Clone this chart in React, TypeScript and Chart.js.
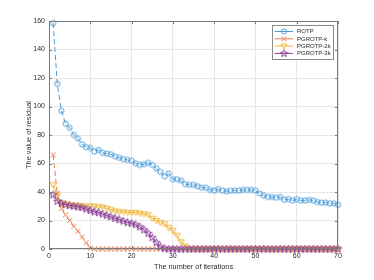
import React, { useEffect, useRef } from 'react';
import { Chart, registerables } from 'chart.js';

Chart.register(...registerables);

const iterations = [
  1, 2, 3, 4, 5, 6, 7, 8, 9, 10, 11, 12, 13, 14, 15, 16, 17, 18, 19, 20,
  21, 22, 23, 24, 25, 26, 27, 28, 29, 30, 31, 32, 33, 34, 35, 36, 37, 38, 39, 40,
  41, 42, 43, 44, 45, 46, 47, 48, 49, 50, 51, 52, 53, 54, 55, 56, 57, 58, 59, 60,
  61, 62, 63, 64, 65, 66, 67, 68, 69, 70,
];

const rotp = [
  158.5, 116, 97, 88, 85, 80, 77.5, 73.5, 71.5, 71,
  68.5, 69.5, 67.5, 67, 66.5, 65, 64, 63, 62.5, 62,
  60, 59, 59.5, 60.5, 59, 56.5, 54, 51, 53, 49,
  49, 48, 45.5, 45, 45, 44, 43, 43, 41.5, 41,
  42, 41, 40.5, 41, 41, 41, 41.5, 41.5, 41.5, 41,
  39, 37.5, 36.5, 36.5, 36, 36.5, 34.5, 35, 34, 35,
  34, 34, 34.5, 34, 33, 32.5, 32.5, 32, 32, 31,
];

const pgrotpK = [
  66, 39, 28.5, 24, 20, 16, 12.5, 8.5, 4.5, 0.5,
  0, 0, 0, 0, 0, 0, 0, 0, 0, 0,
  0, 0, 0, 0, 0, 0, 0, 0, 0, 0,
  0, 0, 0, 0, 0, 0, 0, 0, 0, 0,
  0, 0, 0, 0, 0, 0, 0, 0, 0, 0,
  0, 0, 0, 0, 0, 0, 0, 0, 0, 0,
  0, 0, 0, 0, 0, 0, 0, 0, 0, 0,
];

const pgrotp2k = [
  45, 38, 32.5, 31.5, 31, 30.5, 30.5, 30, 30, 30,
  30, 29.5, 29.5, 28.5, 27.5, 26.5, 26, 26, 25.5, 25.5,
  25.5, 25, 24.5, 24, 21.5, 20, 18.5, 17.5, 15, 13,
  9.5, 5, 2, 0, 0, 0, 0, 0, 0, 0,
  0, 0, 0, 0, 0, 0, 0, 0, 0, 0,
  0, 0, 0, 0, 0, 0, 0, 0, 0, 0,
  0, 0, 0, 0, 0, 0, 0, 0, 0, 0,
];

const pgrotp3k = [
  38, 33.5, 32, 31, 30.5, 30, 29.5, 29, 28, 27,
  26, 25.5, 24.5, 23.5, 22.5, 21.5, 20.5, 19.5, 18.5, 18,
  17, 15.5, 13.5, 11, 8, 4.5, 1.5, 0.3, 0, 0,
  0, 0, 0, 0, 0, 0, 0, 0, 0, 0,
  0, 0, 0, 0, 0, 0, 0, 0, 0, 0,
  0, 0, 0, 0, 0, 0, 0, 0, 0, 0,
  0, 0, 0, 0, 0, 0, 0, 0, 0, 0,
];

const seriesNames = ['ROTP', 'PGROTP-k', 'PGROTP-2k', 'PGROTP-3k'];
const seriesValues = [rotp, pgrotpK, pgrotp2k, pgrotp3k];
const seriesColors = ['#4b9bd6', '#e47a4e', '#efb63c', '#8b3f98'];
const seriesMarkers = ['circle', 'x', 'tri', 'star'];
const seriesDashed = [true, true, false, false];

const xLabel = 'The number of iterations';
const yLabel = 'The value of residual';
const xMin = 0, xMax = 70, xStep = 10;
const yMin = 0, yMax = 160, yStep = 20;

const FONT = '"Liberation Sans", Arial, Helvetica, sans-serif';
const TEXT = '#2b2b2b';
const AXIS = '#7a7a7a';

function makeMarker(kind: string, color: string): HTMLCanvasElement {
  const c = document.createElement('canvas');
  c.width = 9;
  c.height = 9;
  const g = c.getContext('2d')!;
  g.strokeStyle = color;
  g.lineWidth = 1;
  g.beginPath();
  if (kind === 'circle') {
    g.arc(4.5, 4.5, 2.6, 0, Math.PI * 2);
  } else if (kind === 'x') {
    g.moveTo(2, 2); g.lineTo(7, 7);
    g.moveTo(7, 2); g.lineTo(2, 7);
  } else if (kind === 'tri') {
    g.moveTo(1.3, 2.3); g.lineTo(7.7, 2.3); g.lineTo(4.5, 7.6); g.closePath();
  } else {
    for (let i = 0; i < 10; i++) {
      const a = -Math.PI / 2 + (i * Math.PI) / 5;
      const r = i % 2 === 0 ? 3.9 : 1.6;
      const px = 4.5 + r * Math.cos(a);
      const py = 4.6 + r * Math.sin(a);
      if (i === 0) g.moveTo(px, py); else g.lineTo(px, py);
    }
    g.closePath();
  }
  g.stroke();
  return c;
}

export default function App() {
  const ref = useRef<HTMLCanvasElement | null>(null);

  useEffect(() => {
    const canvas = ref.current;
    if (!canvas) return;
    const markers = seriesMarkers.map((m, i) => makeMarker(m, seriesColors[i]));

    const boxPlugin = {
      id: 'matlabBox',
      afterDatasetsDraw(chart: any) {
        const { ctx, chartArea } = chart;
        const l = Math.round(chartArea.left), r = Math.round(chartArea.right);
        const t = Math.round(chartArea.top), b = Math.round(chartArea.bottom);
        ctx.save();
        ctx.strokeStyle = AXIS;
        ctx.lineWidth = 1;
        ctx.strokeRect(l + 0.5, t + 0.5, r - l - 1, b - t - 1);
        ctx.beginPath();
        const xs = chart.scales.x, ys = chart.scales.y;
        for (let v = xMin; v <= xMax; v += xStep) {
          const px = Math.round(xs.getPixelForValue(v)) + 0.5;
          ctx.moveTo(px, b); ctx.lineTo(px, b - 3);
          ctx.moveTo(px, t); ctx.lineTo(px, t + 3);
        }
        for (let v = yMin; v <= yMax; v += yStep) {
          const py = Math.round(ys.getPixelForValue(v)) + 0.5;
          ctx.moveTo(l, py); ctx.lineTo(l + 3, py);
          ctx.moveTo(r, py); ctx.lineTo(r - 3, py);
        }
        ctx.stroke();
        ctx.restore();
      },
      afterDraw(chart: any) {
        const { ctx } = chart;
        ctx.save();
        const bx = 272.5, by = 25.5, bw = 61, bh = 34;
        ctx.fillStyle = '#ffffff';
        ctx.fillRect(bx, by, bw, bh);
        ctx.strokeStyle = '#8a8a8a';
        ctx.lineWidth = 1;
        ctx.strokeRect(bx, by, bw, bh);
        ctx.font = `6px ${FONT}`;
        ctx.textBaseline = 'middle';
        ctx.textAlign = 'left';
        seriesNames.forEach((name, i) => {
          const y = 31.5 + i * 7.3;
          ctx.strokeStyle = seriesColors[i];
          ctx.beginPath();
          ctx.moveTo(274.5, y);
          ctx.lineTo(293, y);
          ctx.stroke();
          const m = markers[i];
          ctx.drawImage(m, 284 - m.width / 2, y - m.height / 2);
          ctx.fillStyle = TEXT;
          ctx.fillText(name, 297, y + 0.3);
        });
        ctx.restore();
      },
    };

    const datasets = seriesNames.map((name, i) => ({
      label: name,
      data: iterations.map((x, k) => ({ x, y: seriesValues[i][k] })),
      borderColor: seriesColors[i],
      backgroundColor: 'rgba(0,0,0,0)',
      borderWidth: 1,
      borderDash: seriesDashed[i] ? [5, 3] : [],
      pointStyle: markers[i] as any,
      pointRadius: 3,
      pointHoverRadius: 3,
      fill: false,
      tension: 0,
      clip: false as any,
      order: 4 - i,
    }));

    const chart = new Chart(canvas, {
      type: 'line',
      data: { datasets },
      options: {
        animation: false,
        responsive: false,
        devicePixelRatio: 1,
        events: [],
        layout: { padding: { left: 0, top: 21, right: 36, bottom: 0 } },
        plugins: { legend: { display: false }, tooltip: { enabled: false } },
        scales: {
          x: {
            type: 'linear',
            min: xMin,
            max: xMax,
            ticks: { stepSize: xStep, padding: 3, color: TEXT, font: { size: 7, family: FONT } },
            grid: { color: '#e6e6e6', drawTicks: false, lineWidth: 1 },
            border: { display: false },
            title: {
              display: true,
              text: xLabel,
              color: TEXT,
              font: { size: 7.3, family: FONT },
              padding: { top: 0, bottom: 9 },
            },
            afterFit: (s: any) => { s.height = 31; },
          },
          y: {
            type: 'linear',
            min: yMin,
            max: yMax,
            ticks: { stepSize: yStep, padding: 4, color: TEXT, font: { size: 7, family: FONT } },
            grid: { color: '#e6e6e6', drawTicks: false, lineWidth: 1 },
            border: { display: false },
            title: {
              display: true,
              text: yLabel,
              color: TEXT,
              font: { size: 7.3, family: FONT },
              padding: { top: 24.5, bottom: 0 },
            },
            afterFit: (s: any) => { s.width = 49; },
          },
        },
      },
      plugins: [boxPlugin],
    });
    return () => chart.destroy();
  }, []);

  return (
    <div style={{ position: 'fixed', left: 0, top: 0, width: 374, height: 280, background: '#fff' }}>
      <canvas ref={ref} width={374} height={280} style={{ width: 374, height: 280, display: 'block' }} />
    </div>
  );
}
